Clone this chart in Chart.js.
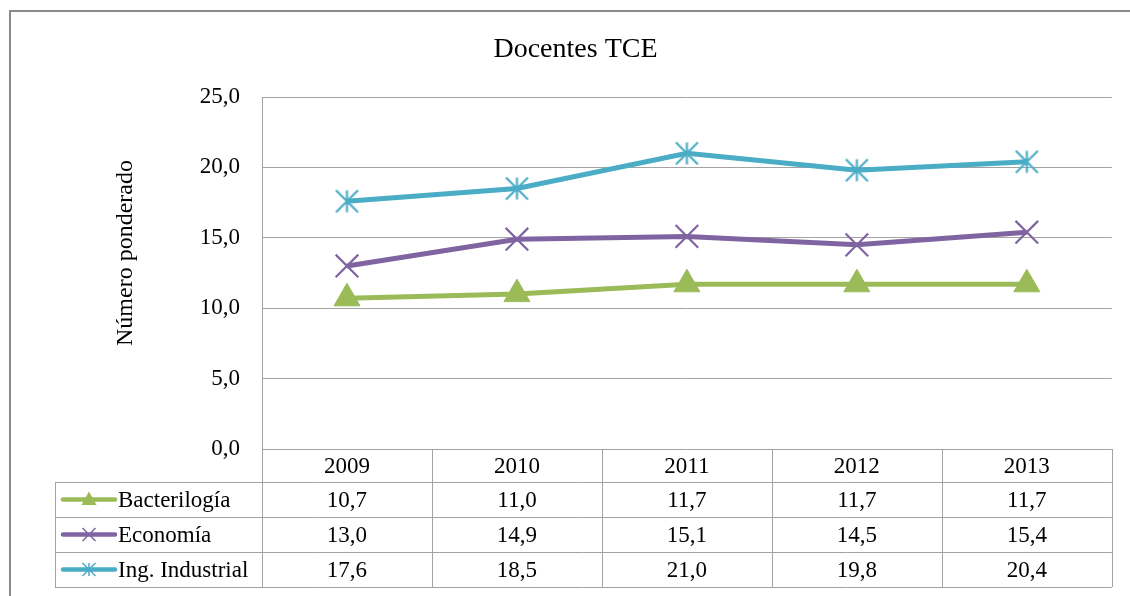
<!DOCTYPE html>
<html>
<head>
<meta charset="utf-8">
<title>Docentes TCE</title>
<script src="https://cdn.jsdelivr.net/npm/chart.js@4/dist/chart.umd.min.js"></script>
<style>
  body { margin: 0; background: #fff; }
  #wrap { width: 1130px; height: 596px; }
</style>
</head>
<body>
<div id="wrap"><canvas id="chart" width="1130" height="596"></canvas></div>
<script>
// data
const years = ['2009', '2010', '2011', '2012', '2013'];
const seriesNames = ['Bacterilogía', 'Economía', 'Ing. Industrial'];
const bacteriologia = [10.7, 11.0, 11.7, 11.7, 11.7];
const economia = [13.0, 14.9, 15.1, 14.5, 15.4];
const ingIndustrial = [17.6, 18.5, 21.0, 19.8, 20.4];
const yMin = 0, yMax = 25, yStep = 5;
const yTitle = 'Número ponderado';

const serif = "'Liberation Serif', 'Times New Roman', serif";
const gridGray = '#a3a3a3';
const colors = ['#9bbb59', '#8064a2', '#4bacc6'];

function fmt(v) {
    return v.toFixed(1).replace('.', ',');
}

// asterisk marker like the office one: vertical bar + an X
function makeStar(r, color, lw) {
    const c = document.createElement('canvas');
    const s = Math.ceil(2 * r + lw + 2);
    c.width = s; c.height = s;
    const g = c.getContext('2d');
    const m = s / 2;
    g.strokeStyle = color;
    g.lineWidth = lw;
    g.beginPath();
    g.moveTo(m, m - r); g.lineTo(m, m + r);
    g.moveTo(m - r, m - r); g.lineTo(m + r, m + r);
    g.moveTo(m - r, m + r); g.lineTo(m + r, m - r);
    g.stroke();
    return c;
}

function drawMarker(ctx, kind, x, y, size, color) {
    ctx.save();
    ctx.fillStyle = color;
    ctx.strokeStyle = color;
    ctx.lineWidth = 1.5;
    ctx.beginPath();
    if (kind === 'triangle') {
        ctx.moveTo(x, y - size);
        ctx.lineTo(x + size * 0.95, y + size * 0.7);
        ctx.lineTo(x - size * 0.95, y + size * 0.7);
        ctx.closePath();
        ctx.fill();
    } else if (kind === 'cross') {
        ctx.moveTo(x - size, y - size); ctx.lineTo(x + size, y + size);
        ctx.moveTo(x - size, y + size); ctx.lineTo(x + size, y - size);
        ctx.stroke();
    } else {
        ctx.moveTo(x, y - size); ctx.lineTo(x, y + size);
        ctx.moveTo(x - size, y - size); ctx.lineTo(x + size, y + size);
        ctx.moveTo(x - size, y + size); ctx.lineTo(x + size, y - size);
        ctx.stroke();
    }
    ctx.restore();
}

const tableRows = [bacteriologia, economia, ingIndustrial];
const markerKinds = ['triangle', 'cross', 'star'];

const framePlugin = {
    id: 'frame',
    beforeDraw(chart) {
        const ctx = chart.ctx;
        ctx.save();
        ctx.fillStyle = '#fff';
        ctx.fillRect(0, 0, chart.width, chart.height);
        ctx.strokeStyle = '#8a8a8a';
        ctx.lineWidth = 2;
        ctx.strokeRect(10, 11, 1300, 800);
        ctx.restore();
    }
};

// data table under the plot, columns taken from the x scale
const tablePlugin = {
    id: 'dataTable',
    afterDraw(chart) {
        const ctx = chart.ctx;
        const xs = chart.scales.x;
        const area = chart.chartArea;
        const half = (xs.getPixelForValue(1) - xs.getPixelForValue(0)) / 2;
        const top = area.bottom;
        const headerH = 33;
        const rowH = 35;
        const legendLeft = 55;
        const bottom = top + headerH + rowH * tableRows.length;

        ctx.save();
        ctx.strokeStyle = gridGray;
        ctx.lineWidth = 1;
        ctx.beginPath();
        // vertical lines
        ctx.moveTo(Math.round(area.left) + 0.5, top);
        ctx.lineTo(Math.round(area.left) + 0.5, bottom);
        years.forEach((y, i) => {
            const xr = Math.round(xs.getPixelForValue(i) + half) + 0.5;
            ctx.moveTo(xr, top);
            ctx.lineTo(xr, bottom);
        });
        ctx.moveTo(legendLeft + 0.5, top + headerH);
        ctx.lineTo(legendLeft + 0.5, bottom);
        // horizontal lines
        for (let r = 0; r <= tableRows.length; r++) {
            const yy = Math.round(top + headerH + r * rowH) + 0.5;
            ctx.moveTo(legendLeft, yy);
            ctx.lineTo(area.right, yy);
        }
        ctx.stroke();

        ctx.fillStyle = '#000';
        ctx.font = '23px ' + serif;
        ctx.textBaseline = 'middle';
        ctx.textAlign = 'center';
        years.forEach((y, i) => {
            ctx.fillText(y, xs.getPixelForValue(i), top + headerH / 2 + 1);
        });
        tableRows.forEach((vals, r) => {
            const cy = top + headerH + r * rowH + rowH / 2 + 1;
            vals.forEach((v, i) => {
                ctx.fillText(fmt(v), xs.getPixelForValue(i), cy);
            });
        });

        // legend keys
        tableRows.forEach((vals, r) => {
            const cy = top + headerH + r * rowH + rowH / 2;
            ctx.save();
            ctx.strokeStyle = colors[r];
            ctx.lineWidth = 4.5;
            ctx.lineCap = 'round';
            ctx.beginPath();
            ctx.moveTo(63, cy);
            ctx.lineTo(115, cy);
            ctx.stroke();
            ctx.restore();
            drawMarker(ctx, markerKinds[r], 89, cy, r === 0 ? 8 : 6.5, colors[r]);
            ctx.fillStyle = '#000';
            ctx.textAlign = 'left';
            ctx.fillText(seriesNames[r], 118, cy + 1);
        });

        // y axis title, sits a bit above the middle of the plot like the original
        ctx.save();
        ctx.translate(126, 253);
        ctx.rotate(-Math.PI / 2);
        ctx.font = '24px ' + serif;
        ctx.textAlign = 'center';
        ctx.textBaseline = 'middle';
        ctx.fillStyle = '#000';
        ctx.fillText(yTitle, 0, 0);
        ctx.restore();
        ctx.restore();
    }
};

const starImg = makeStar(11, colors[2], 2.2);

new Chart(document.getElementById('chart'), {
    type: 'line',
    data: {
        labels: years,
        datasets: [
            {
                label: seriesNames[0],
                data: bacteriologia,
                borderColor: colors[0],
                backgroundColor: colors[0],
                borderWidth: 5,
                pointStyle: 'triangle',
                pointRadius: 15,
                pointBorderWidth: 1,
                pointBackgroundColor: colors[0],
                pointBorderColor: colors[0]
            },
            {
                label: seriesNames[1],
                data: economia,
                borderColor: colors[1],
                backgroundColor: colors[1],
                borderWidth: 5,
                pointStyle: 'crossRot',
                pointRadius: 16,
                pointBorderWidth: 2.2,
                pointBorderColor: colors[1]
            },
            {
                label: seriesNames[2],
                data: ingIndustrial,
                borderColor: colors[2],
                backgroundColor: colors[2],
                borderWidth: 5,
                pointStyle: starImg,
                pointRadius: 12,
                pointBorderColor: colors[2]
            }
        ]
    },
    options: {
        responsive: false,
        animation: false,
        layout: { padding: { top: 0, left: 38, right: 17, bottom: 147 } },
        plugins: {
            legend: { display: false },
            tooltip: { enabled: false },
            title: {
                display: true,
                text: 'Docentes TCE',
                color: '#000',
                font: { family: serif, size: 28, weight: 'normal' },
                padding: { top: 33, bottom: 30.4 }
            }
        },
        scales: {
            x: {
                display: false,
                offset: true
            },
            y: {
                min: yMin,
                max: yMax,
                afterFit(scale) { scale.width = 224; },
                ticks: {
                    stepSize: yStep,
                    padding: 22,
                    color: '#000',
                    font: { family: serif, size: 23 },
                    callback: v => fmt(v)
                },
                grid: { color: gridGray, drawTicks: false },
                border: { display: true, color: gridGray }
            }
        }
    },
    plugins: [framePlugin, tablePlugin]
});
</script>
</body>
</html>
